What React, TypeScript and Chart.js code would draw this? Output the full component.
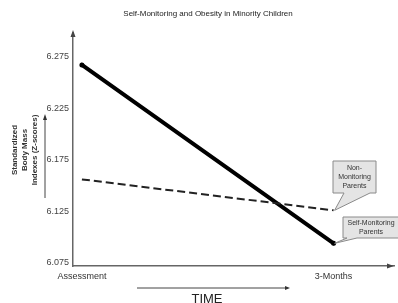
import React, { useEffect, useRef } from "react";
import { Chart, registerables } from "chart.js";

Chart.register(...registerables);

const categories = ["Assessment", "3-Months"];
const selfMonitoring = [6.267, 6.094];
const nonMonitoring = [6.156, 6.126];
const yTicks = [6.075, 6.125, 6.175, 6.225, 6.275];
const titleText = "Self-Monitoring and Obesity in Minority Children";
const yTitleLines = ["Standardized", "Body Mass", "Indexes (Z-scores)"];
const xTitle = "TIME";
const nonLabel = ["Non-", "Monitoring", "Parents"];
const selfLabel = ["Self-Monitoring", "Parents"];

const FONT = "'Liberation Sans', Arial, sans-serif";

function arrowHead(ctx: CanvasRenderingContext2D, x: number, y: number, dir: "up" | "right", len: number, half: number, color: string) {
  ctx.save();
  ctx.fillStyle = color;
  ctx.beginPath();
  if (dir === "up") {
    ctx.moveTo(x, y);
    ctx.lineTo(x - half, y + len);
    ctx.lineTo(x + half, y + len);
  } else {
    ctx.moveTo(x, y);
    ctx.lineTo(x - len, y - half);
    ctx.lineTo(x - len, y + half);
  }
  ctx.closePath();
  ctx.fill();
  ctx.restore();
}

function callout(
  ctx: CanvasRenderingContext2D,
  box: { l: number; t: number; r: number; b: number },
  tailA: number,
  tailB: number,
  tip: { x: number; y: number },
  lines: string[],
  lineH: number
) {
  ctx.save();
  ctx.beginPath();
  ctx.moveTo(box.l, box.t);
  ctx.lineTo(box.r, box.t);
  ctx.lineTo(box.r, box.b);
  ctx.lineTo(tailB, box.b);
  ctx.lineTo(tip.x, tip.y);
  ctx.lineTo(tailA, box.b);
  ctx.lineTo(box.l, box.b);
  ctx.closePath();
  ctx.fillStyle = "#e4e4e4";
  ctx.fill();
  ctx.strokeStyle = "#8a8a8a";
  ctx.lineWidth = 1;
  ctx.stroke();
  ctx.fillStyle = "#333";
  ctx.font = `7px ${FONT}`;
  ctx.textAlign = "center";
  ctx.textBaseline = "middle";
  const cx = (box.l + box.r) / 2;
  const total = lineH * (lines.length - 1);
  const cy = (box.t + box.b) / 2;
  lines.forEach((s, i) => ctx.fillText(s, cx, cy - total / 2 + i * lineH));
  ctx.restore();
}

const decorPlugin = {
  id: "decor",
  afterDraw(chart: any) {
    const ctx: CanvasRenderingContext2D = chart.ctx;
    const ca = chart.chartArea;
    const xs = chart.scales.x;
    const ys = chart.scales.y;
    // axis arrowheads
    ctx.save();
    ctx.strokeStyle = "#666";
    ctx.lineWidth = 1.5;
    ctx.beginPath();
    ctx.moveTo(ca.left, ca.top);
    ctx.lineTo(ca.left, ca.top - 2);
    ctx.stroke();
    ctx.restore();
    arrowHead(ctx, ca.left, ca.top - 4, "up", 7, 2.5, "#444");
    arrowHead(ctx, ca.right, ca.bottom, "right", 7, 2.5, "#444");

    // title
    ctx.save();
    ctx.fillStyle = "#222";
    ctx.font = `8px ${FONT}`;
    ctx.textAlign = "center";
    ctx.textBaseline = "middle";
    ctx.fillText(titleText, 208, 14, 180);
    ctx.restore();

    // y title
    ctx.save();
    ctx.translate(0, 0);
    ctx.fillStyle = "#333";
    ctx.font = `bold 8px ${FONT}`;
    ctx.textAlign = "center";
    ctx.textBaseline = "middle";
    yTitleLines.forEach((s, i) => {
      ctx.save();
      ctx.translate(15 + i * 10, 150);
      ctx.rotate(-Math.PI / 2);
      ctx.fillText(s, 0, 0);
      ctx.restore();
    });
    ctx.strokeStyle = "#444";
    ctx.lineWidth = 1;
    ctx.beginPath();
    ctx.moveTo(45, 198);
    ctx.lineTo(45, 120);
    ctx.stroke();
    ctx.restore();
    arrowHead(ctx, 45, 114, "up", 6, 2, "#333");

    // x title and arrow
    ctx.save();
    ctx.strokeStyle = "#444";
    ctx.lineWidth = 1;
    ctx.beginPath();
    ctx.moveTo(137, 288);
    ctx.lineTo(285, 288);
    ctx.stroke();
    ctx.restore();
    arrowHead(ctx, 290, 288, "right", 5, 2, "#333");
    ctx.save();
    ctx.fillStyle = "#222";
    ctx.font = `13px ${FONT}`;
    ctx.textAlign = "center";
    ctx.textBaseline = "alphabetic";
    ctx.fillText(xTitle, 207, 303);
    ctx.restore();

    // callouts
    const nx = xs.getPixelForValue(1);
    const ny = ys.getPixelForValue(nonMonitoring[1]);
    const sy = ys.getPixelForValue(selfMonitoring[1]);
    callout(ctx, { l: 333, t: 161, r: 376, b: 193 }, 344, 370, { x: nx + 1, y: ny }, nonLabel, 9);
    callout(ctx, { l: 343, t: 217, r: 399, b: 238 }, 347, 357, { x: nx + 1, y: sy }, selfLabel, 9);
  },
};

export default function App() {
  const ref = useRef<HTMLCanvasElement | null>(null);
  useEffect(() => {
    document.body.style.margin = "0";
    document.body.style.overflow = "hidden";
    const canvas = ref.current!;
    const chart = new Chart(canvas, {
      type: "line",
      data: {
        datasets: [
          {
            label: "Non-Monitoring Parents",
            data: nonMonitoring.map((v, i) => ({ x: i, y: v })),
            borderColor: "#222",
            borderWidth: 2,
            borderDash: [8, 4],
            pointRadius: 0,
            tension: 0,
          },
          {
            label: "Self-Monitoring Parents",
            data: selfMonitoring.map((v, i) => ({ x: i, y: v })),
            borderColor: "#000",
            backgroundColor: "#000",
            borderWidth: 4,
            borderCapStyle: "round",
            pointRadius: 2.5,
            pointBorderWidth: 0,
            tension: 0,
          },
        ],
      },
      options: {
        responsive: false,
        animation: false,
        devicePixelRatio: 1,
        layout: { padding: { top: 34, right: 1, left: 0, bottom: 0 } },
        plugins: { legend: { display: false }, tooltip: { enabled: false }, title: { display: false } },
        scales: {
          x: {
            type: "linear",
            min: -0.0354,
            max: 1.24,
            grid: { display: false, drawTicks: false },
            border: { display: true, color: "#666", width: 1.5 },
            afterBuildTicks: (s: any) => {
              s.ticks = categories.map((_, i) => ({ value: i }));
            },
            afterFit: (s: any) => {
              s.height = 37;
            },
            ticks: {
              padding: 5,
              autoSkip: false,
              maxRotation: 0,
              color: "#333",
              font: { family: FONT, size: 9 },
              callback: (v: any) => categories[v] ?? "",
            },
          },
          y: {
            type: "linear",
            min: 6.072,
            max: 6.297,
            grid: { display: false, drawTicks: false },
            border: { display: true, color: "#666", width: 1.5 },
            afterBuildTicks: (s: any) => {
              s.ticks = yTicks.map((v) => ({ value: v }));
            },
            afterFit: (s: any) => {
              s.width = 73;
            },
            ticks: {
              padding: 4,
              color: "#444",
              font: { family: FONT, size: 9 },
              callback: (v: any) => Number(v).toFixed(3),
            },
          },
        },
      },
      plugins: [decorPlugin],
    } as any);
    return () => chart.destroy();
  }, []);
  return <canvas ref={ref} width={398} height={303} style={{ display: "block" }} />;
}
